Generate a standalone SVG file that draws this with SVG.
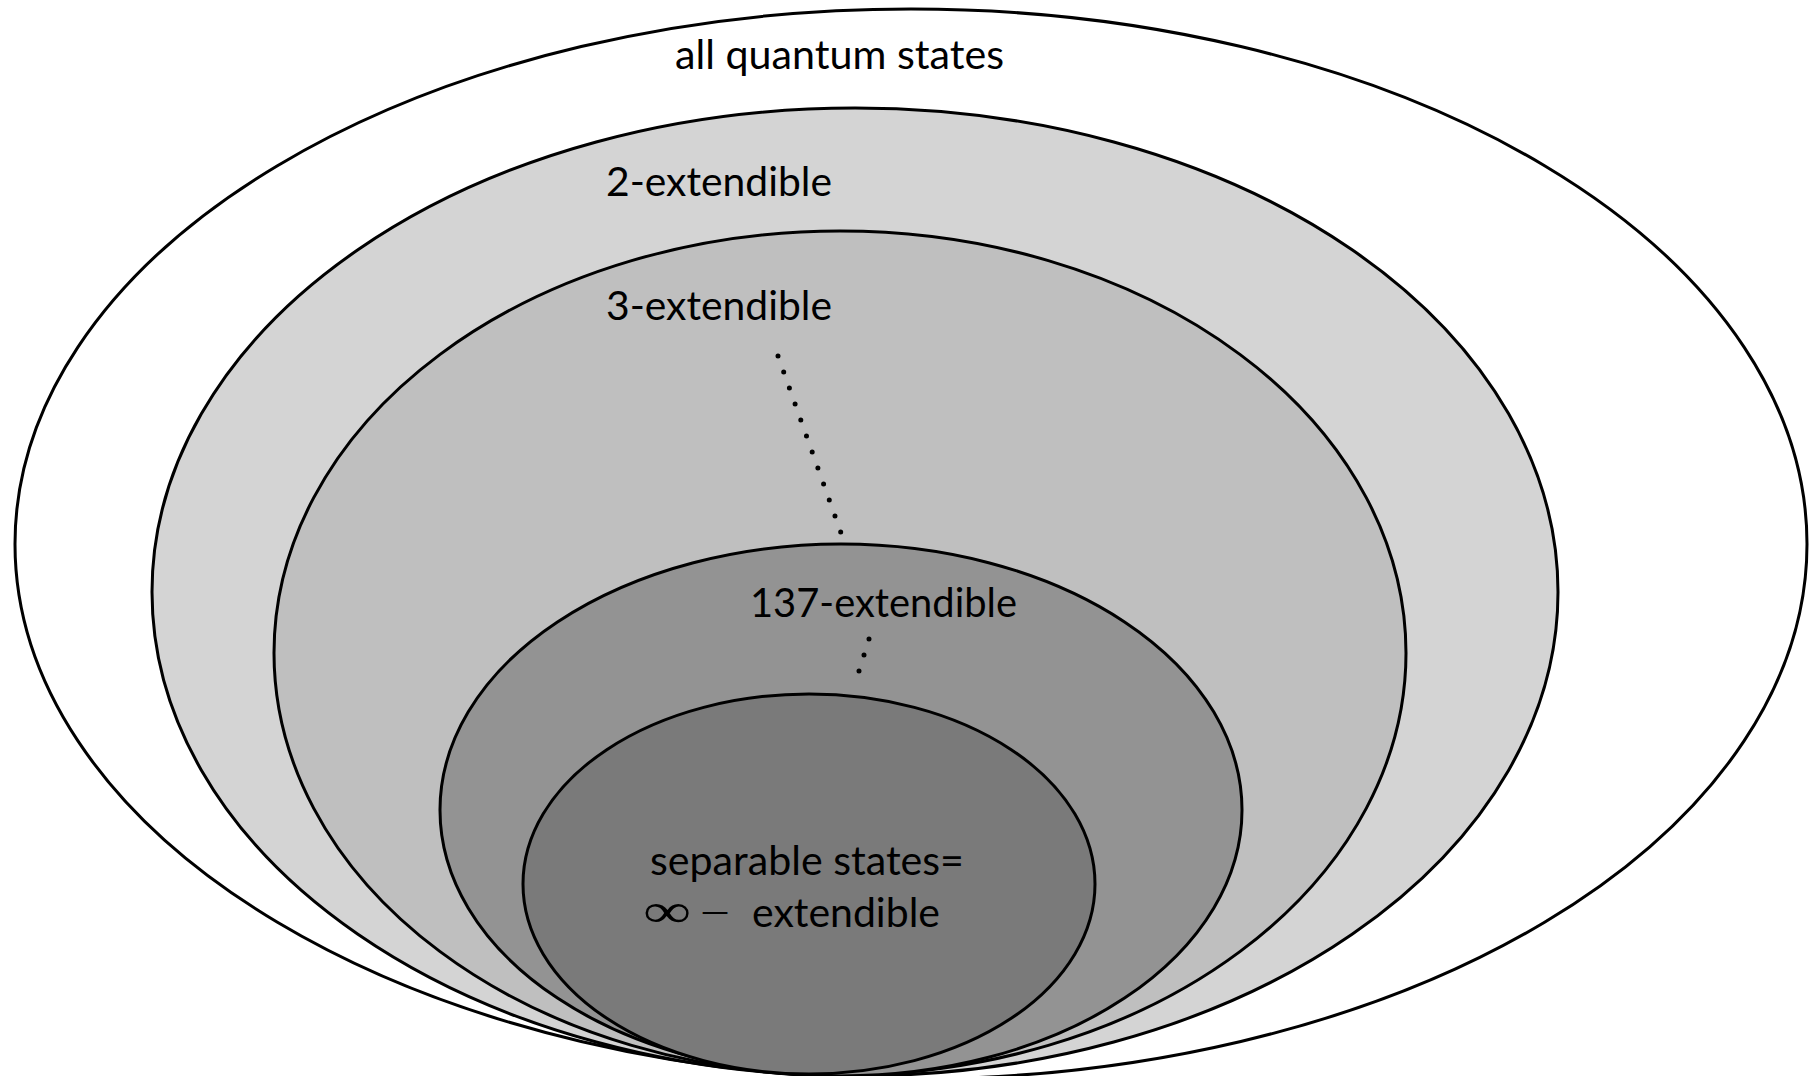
<svg xmlns="http://www.w3.org/2000/svg" width="1810" height="1076" viewBox="0 0 1810 1076">
<style>
.set{stroke:#000;stroke-width:3}
.lbl{font-family:Lato,"Open Sans","Liberation Sans",sans-serif;font-size:41px;fill:#000}
.math{font-family:"Liberation Serif","DejaVu Serif",serif}
.dots{stroke:#000;stroke-width:5;stroke-linecap:round;fill:none}
</style>
<rect width="1810" height="1076" fill="#fff"/>
<g id="all-quantum-states">
<ellipse class="set" cx="911" cy="544" rx="896" ry="535" fill="#fff"/>
<text class="lbl" x="675" y="69" textLength="329" lengthAdjust="spacingAndGlyphs">all quantum states</text>
</g>
<g id="two-extendible">
<ellipse class="set" cx="855" cy="592" rx="703" ry="484" fill="#d4d4d4"/>
<text class="lbl" x="606" y="196" textLength="226" lengthAdjust="spacingAndGlyphs">2-extendible</text>
</g>
<g id="three-extendible">
<ellipse class="set" cx="840" cy="653" rx="566" ry="422" fill="#bfbfbf"/>
<text class="lbl" x="606" y="320" textLength="226" lengthAdjust="spacingAndGlyphs">3-extendible</text>
</g>
<g id="k137-extendible">
<ellipse class="set" cx="841" cy="810" rx="401" ry="266" fill="#939393"/>
<text class="lbl" x="750" y="617" textLength="267" lengthAdjust="spacingAndGlyphs">137-extendible</text>
</g>
<g id="separable">
<ellipse class="set" cx="809" cy="884" rx="286" ry="190" fill="#7a7a7a"/>
<text class="lbl" x="650" y="875" textLength="314" lengthAdjust="spacingAndGlyphs">separable states=</text>
<text class="lbl" y="927"><tspan class="math" x="643" font-size="48" textLength="48" lengthAdjust="spacingAndGlyphs">∞</tspan><tspan class="math" x="700" y="926" font-size="40" textLength="30" lengthAdjust="spacingAndGlyphs">−</tspan><tspan x="752" y="927" textLength="188" lengthAdjust="spacingAndGlyphs">extendible</tspan></text>
</g>
<g id="connectors">
<line class="dots" x1="778" y1="356" x2="840.7" y2="532" stroke-dasharray="0 16.98"/>
<line class="dots" x1="869" y1="639" x2="859" y2="671" stroke-dasharray="0 16.76"/>
</g>
</svg>
